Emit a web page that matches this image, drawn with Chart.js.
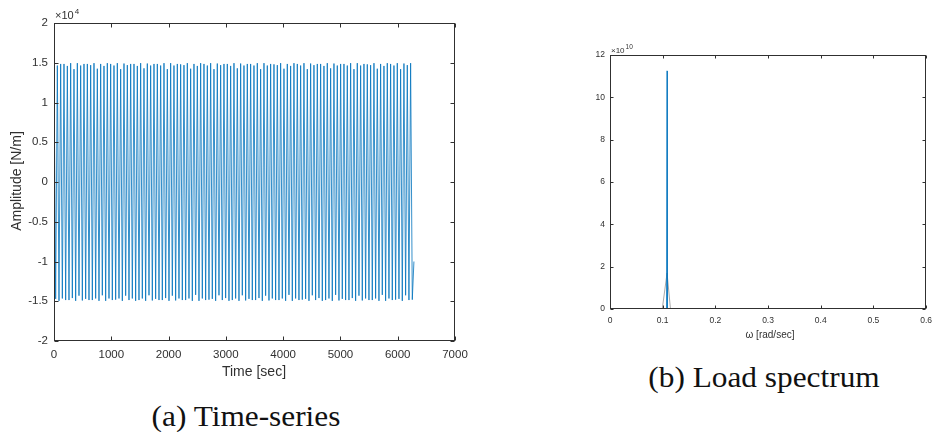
<!DOCTYPE html>
<html>
<head>
<meta charset="utf-8">
<script src="https://cdn.jsdelivr.net/npm/chart.js@4.4.0/dist/chart.umd.min.js"></script>
<style>
  body { margin: 0; background: #fff; width: 939px; height: 432px; overflow: hidden; position: relative; }
  canvas { position: absolute; top: 0; }
  #ts { left: 0; }
  #sp { left: 540px; }
  .cap { position: absolute; font-family: "Liberation Serif", serif; font-size: 29px; color: #111;
         white-space: nowrap; transform: translate(-50%, -50%) scaleX(1.08); }
</style>
</head>
<body>
<canvas id="ts" width="480" height="390"></canvas>
<canvas id="sp" width="399" height="350"></canvas>
<div class="cap" style="left:246px;top:416px">(a) Time-series</div>
<div class="cap" style="left:764px;top:377px">(b) Load spectrum</div>
<script>
// load history: alternating crest / trough values [N/m], one every half period
const halfStep = 29.09;            // sec
const endTime = 6283;              // last sample
const endValue = -10000;
const crests = [
  14300, 14650, 14850, 14850, 14600, 14950, 14200, 14950, 14650, 14850, 14850, 14700,
  14950, 14250, 14850, 14600, 14950, 14850, 14650, 14950, 14200, 14900, 14700, 14850,
  14850, 14600, 14950, 14300, 14900, 14650, 14850, 14850, 14650, 14950, 14200, 14950,
  14650, 14850, 14800, 14700, 14950, 14250, 14850, 14600, 14950, 14850, 14650, 14950,
  14200, 14900, 14700, 14850, 14850, 14600, 14950, 14300, 14900, 14650, 14850, 14850,
  14650, 14950, 14200, 14950, 14650, 14850, 14800, 14700, 14950, 14250, 14850, 14600,
  14950, 14850, 14650, 14950, 14200, 14900, 14700, 14850, 14850, 14600, 14950, 14300,
  14900, 14650, 14850, 14850, 14650, 14950, 14200, 14950, 14650, 14850, 14800, 14700,
  14950, 14250, 14850, 14600, 14950, 14850, 14650, 14950, 14200, 14900, 14700, 14950
];
const troughs = [
  -14700, -14950, -14650, -14850, -14850, -14600, -14950, -14300, -14900, -14700, -14850, -14850,
  -14650, -14950, -14250, -14950, -14650, -14850, -14800, -14650, -14950, -14300, -14850, -14650,
  -14950, -14850, -14650, -14950, -14250, -14900, -14700, -14850, -14850, -14600, -14950, -14300,
  -14900, -14650, -14850, -14850, -14650, -14950, -14200, -14950, -14650, -14850, -14800, -14700,
  -14950, -14250, -14850, -14600, -14950, -14850, -14650, -14950, -14250, -14900, -14700, -14850,
  -14850, -14600, -14950, -14300, -14900, -14650, -14850, -14850, -14650, -14950, -14200, -14950,
  -14650, -14850, -14800, -14700, -14950, -14250, -14850, -14600, -14950, -14850, -14650, -14950,
  -14200, -14900, -14700, -14850, -14850, -14600, -14950, -14300, -14900, -14650, -14850, -14850,
  -14650, -14950, -14200, -14950, -14650, -14850, -14800, -14700, -14950, -14250, -14850, -14800
];

// spectrum: sharp line (blue) and coarse estimate (gray)
const spikeOmega = [0.1078, 0.1083, 0.1088];
const spikeAmp   = [0, 11.25e10, 0];
const coarseOmega = [0, 0.0992, 0.1083, 0.1148, 0.512];
const coarseAmp   = [0, 0, 1.7e10, 0, 0];

const timeTicks = [0, 1000, 2000, 3000, 4000, 5000, 6000, 7000];
const ampTicks = [-20000, -15000, -10000, -5000, 0, 5000, 10000, 15000, 20000];
const omegaTicks = [0, 0.1, 0.2, 0.3, 0.4, 0.5, 0.6];
const specTicks = [0, 2e10, 4e10, 6e10, 8e10, 10e10, 12e10];

const tsPoints = [];
crests.forEach((c, i) => {
  tsPoints.push({ x: 2 * i * halfStep, y: c });
  tsPoints.push({ x: (2 * i + 1) * halfStep, y: troughs[i] });
});
tsPoints.push({ x: endTime, y: endValue });

const ink = '#303030';

// matlab-like box with inward ticks plus axis labels / exponent text
const framePlugin = {
  id: 'frame',
  afterDraw(chart, args, o) {
    const { ctx, chartArea: a, scales } = chart;
    const L = Math.round(a.left) + 0.5, R = Math.round(a.right) - 0.5;
    const T = Math.round(a.top) + 0.5, B = Math.round(a.bottom) - 0.5;
    ctx.save();
    ctx.strokeStyle = ink;
    ctx.lineWidth = 1;
    ctx.strokeRect(L, T, R - L, B - T);
    ctx.beginPath();
    scales.x.ticks.forEach(t => {
      const px = Math.round(scales.x.getPixelForValue(t.value)) + 0.5;
      ctx.moveTo(px, B); ctx.lineTo(px, B - o.tick);
      ctx.moveTo(px, T); ctx.lineTo(px, T + o.tick);
    });
    scales.y.ticks.forEach(t => {
      const py = Math.round(scales.y.getPixelForValue(t.value)) + 0.5;
      ctx.moveTo(L, py); ctx.lineTo(L + o.tick, py);
      ctx.moveTo(R, py); ctx.lineTo(R - o.tick, py);
    });
    ctx.stroke();

    ctx.fillStyle = ink;
    ctx.textAlign = 'center';
    ctx.textBaseline = 'middle';
    ctx.font = o.titleSize + 'px "Liberation Sans", Arial, sans-serif';
    ctx.fillText(o.xTitle, o.xTitleAt[0], o.xTitleAt[1]);
    if (o.yTitle) {
      ctx.save();
      ctx.translate(o.yTitleAt[0], o.yTitleAt[1]);
      ctx.rotate(-Math.PI / 2);
      ctx.fillText(o.yTitle, 0, 0);
      ctx.restore();
    }
    ctx.textAlign = 'left';
    ctx.textBaseline = 'alphabetic';
    ctx.font = o.expSize + 'px "Liberation Sans", Arial, sans-serif';
    ctx.fillText('\u00d710', o.expAt[0], o.expAt[1]);
    const w = ctx.measureText('\u00d710').width;
    ctx.font = o.supSize + 'px "Liberation Sans", Arial, sans-serif';
    ctx.fillText(o.exp, o.expAt[0] + w + 1, o.expAt[1] - o.supLift);
    ctx.restore();
  }
};

function axisOpts(min, max, ticks, size, pad, fmt, fit) {
  return {
    type: 'linear', min, max,
    afterBuildTicks: s => { s.ticks = ticks.map(v => ({ value: v })); },
    afterFit: fit,
    grid: { display: false, drawTicks: false },
    border: { display: false },
    ticks: { color: ink, padding: pad, font: { family: '"Liberation Sans", Arial, sans-serif', size }, callback: fmt }
  };
}

new Chart(document.getElementById('ts'), {
  type: 'line',
  data: {
    datasets: [{
      data: tsPoints, borderColor: '#0072BD', borderWidth: 0.8,
      pointRadius: 0, tension: 0, fill: false
    }]
  },
  options: {
    responsive: false, animation: false, devicePixelRatio: 1,
    layout: { padding: { top: 23, right: 25, left: 0, bottom: 0 } },
    plugins: {
      legend: { display: false }, tooltip: { enabled: false },
      frame: {
        tick: 4, titleSize: 14, xTitle: 'Time [sec]', xTitleAt: [254, 372],
        yTitle: 'Amplitude [N/m]', yTitleAt: [17, 181],
        expSize: 11, supSize: 8, exp: '4', expAt: [55, 19], supLift: 5
      }
    },
    scales: {
      x: axisOpts(0, 7000, timeTicks, 11.5, 7, v => String(v), s => { s.height = 49; }),
      y: axisOpts(-20000, 20000, ampTicks, 11.5, 6, v => String(Math.round(v / 1000) / 10), s => { s.width = 54; })
    }
  },
  plugins: [framePlugin]
});

new Chart(document.getElementById('sp'), {
  type: 'line',
  data: {
    datasets: [
      {
        data: spikeOmega.map((w, i) => ({ x: w, y: spikeAmp[i] })),
        borderColor: '#0072BD', borderWidth: 1.2, pointRadius: 0, tension: 0, fill: false
      },
      {
        data: coarseOmega.map((w, i) => ({ x: w, y: coarseAmp[i] })),
        borderColor: '#a8a8a8', borderWidth: 1, pointRadius: 0, tension: 0, fill: false
      }
    ]
  },
  options: {
    responsive: false, animation: false, devicePixelRatio: 1,
    layout: { padding: { top: 55, right: 7, left: 0, bottom: 0 } },
    plugins: {
      legend: { display: false }, tooltip: { enabled: false },
      frame: {
        tick: 3, titleSize: 10, xTitle: '\u03c9 [rad/sec]', xTitleAt: [230, 335],
        expSize: 8, supSize: 6.5, exp: '10', expAt: [71, 53], supLift: 4
      }
    },
    scales: {
      x: axisOpts(0, 0.6, omegaTicks, 8.5, 7, v => v === 0 ? '0' : v.toFixed(1), s => { s.height = 41; }),
      y: axisOpts(0, 12e10, specTicks, 8.5, 5, v => String(Math.round(v / 1e10)), s => { s.width = 70; })
    }
  },
  plugins: [framePlugin]
});
</script>
</body>
</html>
